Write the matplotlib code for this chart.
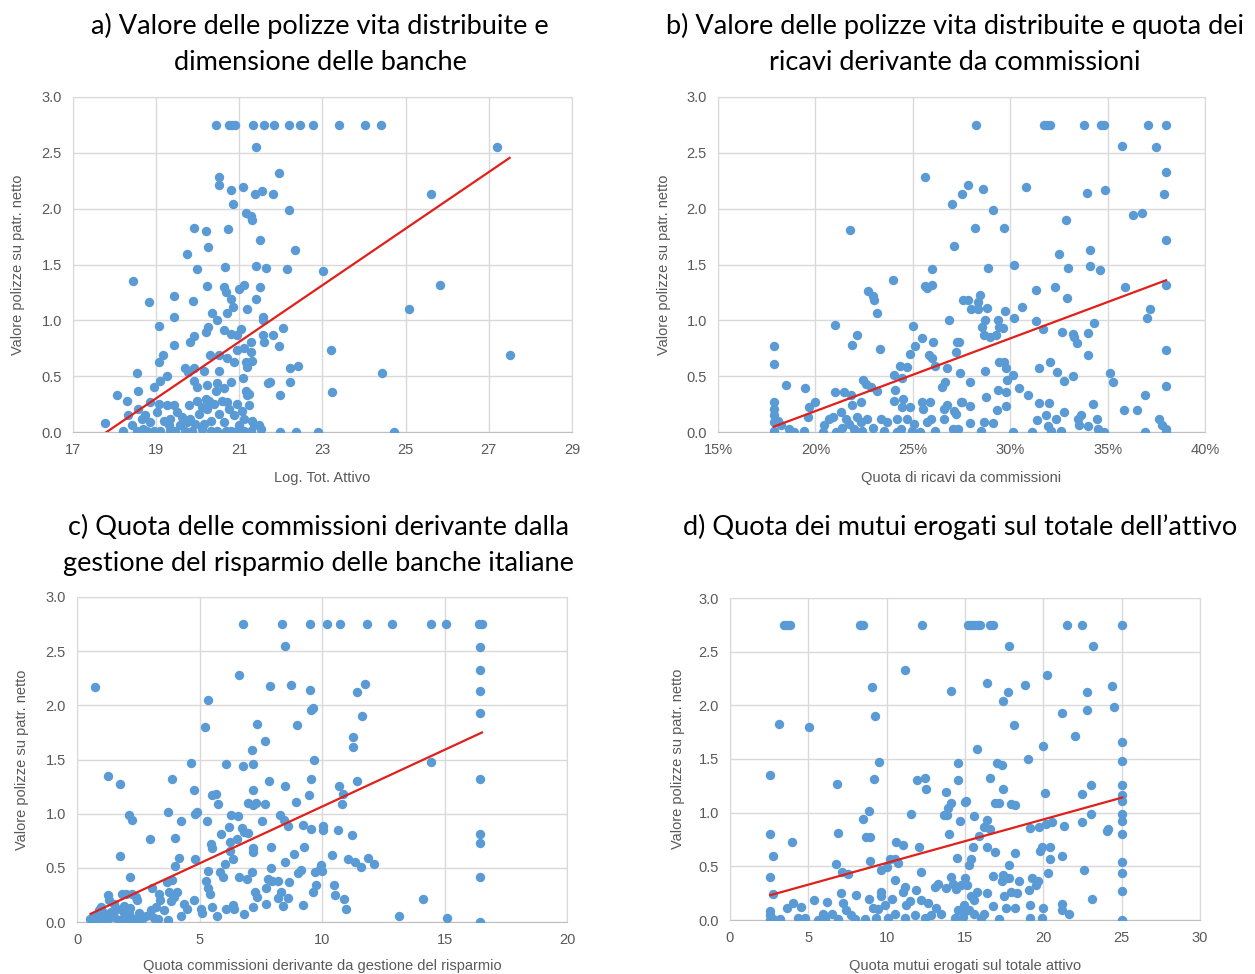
import numpy as np
import matplotlib
matplotlib.use("Agg")
import matplotlib.pyplot as plt

plt.rcParams["font.family"] = ["Liberation Sans", "DejaVu Sans"]

# ---- panel a: log total assets vs life policies / net equity
a_pts = [
    (20.43, 2.75), (20.75, 2.75), (20.83, 2.75), (20.89, 2.75), (21.33, 2.75), (21.60, 2.75),
    (21.84, 2.75), (22.20, 2.75), (22.47, 2.75), (22.78, 2.75), (23.39, 2.75), (24.03, 2.75),
    (24.40, 2.75), (21.40, 2.55), (21.96, 2.32), (20.52, 2.28), (20.52, 2.21), (20.81, 2.17),
    (21.10, 2.19), (21.38, 2.13), (21.54, 2.16), (21.80, 2.13), (20.85, 2.04), (22.20, 1.99),
    (21.15, 1.96), (21.27, 1.93), (21.31, 1.90), (19.90, 1.83), (20.21, 1.80), (20.73, 1.82),
    (21.49, 1.72), (20.24, 1.66), (22.34, 1.63), (19.74, 1.59), (19.98, 1.46), (20.65, 1.48),
    (21.41, 1.49), (21.65, 1.47), (22.14, 1.46), (23.02, 1.44), (18.44, 1.35), (20.23, 1.31),
    (20.63, 1.30), (20.69, 1.25), (21.11, 1.32), (20.99, 1.28), (21.49, 1.30), (21.40, 1.19),
    (19.44, 1.22), (18.83, 1.16), (19.88, 1.17), (20.79, 1.19), (20.85, 1.12), (20.71, 1.07),
    (21.19, 1.10), (20.35, 1.07), (19.42, 1.03), (21.58, 1.03), (21.58, 1.00), (19.07, 0.95),
    (22.04, 0.93), (20.47, 1.00), (20.24, 0.94), (20.19, 0.90), (19.92, 0.86), (19.82, 0.81),
    (20.63, 0.91), (20.79, 0.88), (21.03, 0.92), (20.95, 0.87), (21.27, 0.81), (21.56, 0.87),
    (21.60, 0.81), (21.80, 0.87), (21.96, 0.77), (19.44, 0.78), (23.21, 0.73), (21.11, 0.75),
    (20.95, 0.73), (21.27, 0.72), (19.16, 0.69), (19.08, 0.63), (20.29, 0.69), (20.51, 0.69),
    (20.71, 0.66), (20.87, 0.63), (21.15, 0.63), (21.18, 0.58), (21.31, 0.64), (19.70, 0.57),
    (19.90, 0.57), (19.76, 0.54), (20.15, 0.55), (20.51, 0.55), (22.22, 0.57), (22.40, 0.59),
    (18.55, 0.53), (19.26, 0.50), (19.10, 0.46), (18.94, 0.40), (18.56, 0.37), (18.07, 0.33),
    (18.29, 0.28), (21.10, 0.48), (20.81, 0.45), (21.74, 0.45), (21.69, 0.44), (22.22, 0.45),
    (21.97, 0.33), (19.90, 0.46), (19.98, 0.40), (20.23, 0.42), (20.47, 0.44), (20.43, 0.37),
    (20.63, 0.39), (21.15, 0.37), (21.23, 0.34), (17.77, 0.08), (18.21, 0.01), (18.33, 0.15),
    (18.57, 0.21), (18.65, 0.12), (18.69, 0.03), (18.85, 0.27), (18.85, 0.09), (19.02, 0.18),
    (19.10, 0.01), (19.26, 0.24), (19.34, 0.12), (19.34, 0.01), (19.50, 0.18), (19.58, 0.06),
    (19.70, 0.01), (19.78, 0.24), (19.82, 0.12), (19.98, 0.28), (20.02, 0.16), (20.10, 0.03),
    (20.19, 0.30), (20.23, 0.21), (20.31, 0.10), (20.39, 0.25), (20.47, 0.01), (20.51, 0.16),
    (20.59, 0.28), (20.63, 0.09), (20.75, 0.21), (20.79, 0.01), (20.87, 0.15), (20.95, 0.25),
    (20.99, 0.06), (21.07, 0.19), (21.11, 0.01), (21.19, 0.33), (21.23, 0.24), (21.31, 0.10),
    (21.35, 0.06), (21.48, 0.06), (21.52, 0.03), (21.98, 0.00), (22.36, 0.00), (22.90, 0.00),
    (18.73, 0.15), (18.53, 0.01), (18.77, 0.01), (18.94, 0.01), (19.18, 0.10), (19.46, 0.01),
    (19.62, 0.13), (19.86, 0.01), (19.94, 0.07), (20.15, 0.07), (20.31, 0.01), (20.67, 0.01),
    (20.95, 0.01), (19.74, 0.09), (19.06, 0.25), (19.30, 0.06), (19.42, 0.24), (20.10, 0.22),
    (20.71, 0.27), (21.11, 0.12), (21.27, 0.01), (18.41, 0.06), (18.65, 0.01), (20.27, 0.28),
    (23.24, 0.36), (24.42, 0.53), (24.73, 0.00), (25.08, 1.10), (25.60, 2.13), (25.82, 1.32),
    (27.20, 2.55), (27.50, 0.69),
]
a_trend = (0.2533, -4.511)

# ---- panel b: share of revenues from commissions (%)
b_pts = [
    (25.61, 2.28), (27.01, 2.04), (27.52, 2.13), (27.13, 1.67), (21.76, 1.81), (25.99, 1.46),
    (25.61, 1.31), (25.73, 1.29), (25.99, 1.32), (24.00, 1.36), (22.72, 1.26), (22.96, 1.22),
    (23.01, 1.18), (23.14, 1.07), (26.87, 1.00), (27.60, 1.18), (21.00, 0.96), (22.12, 0.87),
    (21.90, 0.78), (23.30, 0.74), (25.02, 0.95), (25.48, 0.84), (25.10, 0.77), (26.02, 0.81),
    (27.27, 0.81), (27.21, 0.72), (24.85, 0.70), (25.82, 0.69), (25.99, 0.66), (24.32, 0.59),
    (24.71, 0.58), (26.16, 0.59), (26.75, 0.57), (27.44, 0.53), (17.86, 0.77), (17.86, 0.61),
    (18.49, 0.42), (19.46, 0.39), (19.97, 0.27), (19.68, 0.22), (19.60, 0.13), (21.01, 0.36),
    (21.47, 0.36), (21.81, 0.33), (21.86, 0.24), (22.32, 0.27), (22.44, 0.47), (22.58, 0.43),
    (22.83, 0.40), (23.18, 0.37), (24.03, 0.51), (24.46, 0.48), (24.08, 0.38), (24.03, 0.28),
    (24.51, 0.30), (24.46, 0.22), (24.88, 0.22), (25.48, 0.27), (25.87, 0.27), (25.53, 0.21),
    (26.50, 0.40), (26.67, 0.45), (26.58, 0.21), (26.75, 0.24), (27.13, 0.19), (27.47, 0.27),
    (25.95, 0.12), (27.06, 0.03), (17.86, 0.27), (17.86, 0.21), (17.86, 0.15), (17.86, 0.09),
    (17.86, 0.01), (18.06, 0.10), (18.24, 0.06), (18.66, 0.03), (18.92, 0.00), (19.40, 0.01),
    (20.45, 0.06), (20.71, 0.12), (20.88, 0.13), (21.30, 0.18), (21.56, 0.12), (21.39, 0.04),
    (21.73, 0.07), (22.16, 0.13), (22.32, 0.09), (22.41, 0.01), (22.96, 0.04), (23.35, 0.12),
    (23.69, 0.09), (23.52, 0.01), (24.20, 0.12), (24.20, 0.00), (24.71, 0.12), (25.05, 0.07),
    (24.97, 0.01), (25.39, 0.00), (25.73, 0.09), (26.16, 0.01), (26.58, 0.12), (22.66, 0.12),
    (21.05, 0.00), (20.37, 0.00), (21.98, 0.03), (24.37, 0.03),
    (28.27, 2.75), (31.71, 2.75), (31.88, 2.75), (32.05, 2.75), (33.80, 2.75), (34.66, 2.75),
    (34.83, 2.75), (37.09, 2.75), (38.00, 2.75), (35.72, 2.56), (37.48, 2.55), (38.00, 2.33),
    (37.91, 2.13), (27.84, 2.21), (28.61, 2.18), (30.80, 2.19), (33.92, 2.14), (34.86, 2.17),
    (29.13, 1.99), (32.86, 1.90), (36.30, 1.94), (36.76, 1.96), (28.18, 1.83), (29.66, 1.83),
    (38.00, 1.72), (32.52, 1.59), (34.11, 1.63), (34.09, 1.49), (34.61, 1.45), (32.95, 1.47),
    (30.17, 1.50), (28.84, 1.47), (31.32, 1.27), (32.28, 1.30), (32.91, 1.20), (35.89, 1.30),
    (38.00, 1.32), (27.84, 1.18), (28.46, 1.23), (28.36, 1.16), (27.98, 1.10), (28.36, 1.10),
    (28.80, 1.11), (29.74, 1.08), (30.63, 1.12), (30.17, 1.02), (28.70, 1.00), (28.53, 0.94),
    (28.67, 0.87), (28.97, 0.85), (29.35, 1.00), (29.43, 0.94), (29.61, 0.93), (29.25, 0.87),
    (31.32, 0.99), (31.70, 0.92), (32.64, 0.90), (33.20, 0.88), (33.29, 0.85), (33.42, 0.80),
    (33.97, 0.89), (34.32, 0.98), (37.19, 1.10), (37.00, 1.02), (27.35, 0.81), (33.97, 0.69),
    (38.00, 0.73), (29.43, 0.63), (29.68, 0.63), (29.77, 0.57), (30.12, 0.51), (29.86, 0.47),
    (31.49, 0.57), (32.05, 0.63), (32.40, 0.54), (32.74, 0.46), (33.20, 0.50), (28.72, 0.55),
    (27.96, 0.45), (35.14, 0.53), (35.26, 0.45), (38.00, 0.41), (29.35, 0.38), (29.77, 0.36),
    (30.43, 0.39), (30.92, 0.33), (28.75, 0.31), (27.50, 0.27), (27.96, 0.23), (29.32, 0.20),
    (29.77, 0.23), (31.46, 0.26), (31.97, 0.26), (34.23, 0.25), (35.82, 0.20), (36.51, 0.20),
    (36.93, 0.33), (27.96, 0.08), (28.51, 0.01), (28.63, 0.09), (29.14, 0.08), (30.12, 0.00),
    (31.10, 0.00), (31.40, 0.11), (31.83, 0.15), (31.92, 0.05), (32.09, 0.01), (32.35, 0.12),
    (32.60, 0.01), (32.77, 0.18), (33.46, 0.12), (33.63, 0.15), (33.54, 0.06), (33.97, 0.05),
    (34.45, 0.12), (34.52, 0.03), (34.79, 0.00), (36.93, 0.00), (37.65, 0.12), (37.77, 0.06),
    (38.00, 0.03), (38.00, 0.00), (27.20, 0.16), (27.30, 0.03),
]
b_trend = (0.0651, -1.115)

# ---- panel c: share of commissions from asset management
c_pts = [
    (6.79, 2.75), (8.36, 2.75), (9.49, 2.75), (10.19, 2.75), (10.74, 2.75), (11.85, 2.75),
    (12.85, 2.75), (14.44, 2.75), (15.05, 2.75), (16.41, 2.75), (16.53, 2.75),
    (8.50, 2.55), (0.72, 2.17), (6.63, 2.28), (7.88, 2.18), (8.74, 2.19), (9.52, 2.14),
    (9.56, 1.96), (9.63, 1.98), (5.33, 2.05), (5.22, 1.80), (7.35, 1.83), (8.98, 1.82),
    (7.68, 1.67), (7.13, 1.59), (9.66, 1.50), (4.64, 1.47), (6.08, 1.46), (6.79, 1.44),
    (7.20, 1.46), (1.26, 1.35), (1.75, 1.27), (3.87, 1.32), (4.78, 1.22), (5.53, 1.17),
    (5.67, 1.18), (5.74, 1.09), (7.20, 1.22), (7.83, 1.30), (8.47, 1.26), (9.56, 1.32),
    (9.45, 1.17), (8.92, 1.11), (6.97, 1.10), (7.31, 1.10), (7.69, 1.09), (7.20, 1.08),
    (2.12, 0.99), (2.23, 0.94), (3.73, 1.02), (4.81, 1.00), (4.89, 1.02), (4.23, 0.93),
    (5.29, 0.93), (6.28, 0.99), (6.56, 0.98), (7.54, 0.93), (8.27, 0.99), (8.43, 0.94),
    (8.61, 0.89), (9.22, 0.90), (9.56, 0.86), (10.03, 0.89), (10.03, 0.85), (2.99, 0.77),
    (3.99, 0.78), (5.87, 0.81), (6.22, 0.88), (6.26, 0.74), (6.52, 0.77), (6.72, 0.87),
    (6.83, 0.83), (6.99, 0.82), (5.46, 0.72), (5.53, 0.68), (7.20, 0.68), (7.20, 0.65),
    (7.90, 0.69), (9.25, 0.69), (1.75, 0.61), (4.82, 0.58), (4.17, 0.59), (3.99, 0.52),
    (6.24, 0.66), (6.38, 0.58), (6.04, 0.54), (8.84, 0.63), (8.50, 0.55), (2.16, 0.42),
    (3.89, 0.39), (5.33, 0.47), (5.85, 0.46), (5.94, 0.42), (6.63, 0.42), (6.94, 0.40),
    (7.13, 0.46), (7.92, 0.50), (7.79, 0.40), (7.96, 0.38), (8.22, 0.38), (8.67, 0.37),
    (9.02, 0.45), (9.15, 0.48), (9.70, 0.46), (9.90, 0.49), (5.26, 0.38), (5.33, 0.31),
    (5.44, 0.26), (4.78, 0.20), (7.27, 0.28), (7.34, 0.23), (7.72, 0.31), (8.33, 0.28),
    (8.22, 0.22), (8.61, 0.22), (9.22, 0.16), (9.63, 0.28), (9.74, 0.34), (7.17, 0.14),
    (6.83, 0.07), (5.71, 0.06), (6.08, 0.12), (6.35, 0.16), (6.42, 0.12), (5.53, 0.14),
    (5.05, 0.12), (5.12, 0.08), (7.72, 0.17), (8.40, 0.15), (4.37, 0.17), (4.51, 0.12),
    (4.23, 0.06), (3.83, 0.19), (3.76, 0.28), (4.07, 0.28), (3.96, 0.23), (3.35, 0.26),
    (3.39, 0.20), (3.21, 0.14), (3.55, 0.11), (3.73, 0.02), (3.14, 0.04), (3.31, 0.03),
    (3.07, 0.31), (3.69, 0.37), (2.16, 0.13), (1.27, 0.25), (1.30, 0.20), (1.84, 0.26),
    (1.98, 0.26), (2.25, 0.26), (2.39, 0.23), (2.46, 0.20), (1.50, 0.17), (1.64, 0.12),
    (1.91, 0.15), (2.12, 0.08), (2.32, 0.03), (2.53, 0.08), (2.66, 0.03), (1.09, 0.08),
    (0.96, 0.14), (0.75, 0.03), (0.61, 0.01), (0.82, 0.05), (1.02, 0.03), (1.23, 0.02),
    (1.37, 0.09), (1.50, 0.05), (1.71, 0.02), (1.91, 0.08), (2.05, 0.02), (2.46, 0.00),
    (2.80, 0.06), (0.68, 0.06), (0.89, 0.11), (0.55, 0.03), (3.01, 0.11),
    (16.46, 2.54), (16.46, 2.33), (16.46, 2.13), (16.46, 1.93), (16.46, 1.32), (16.46, 0.81),
    (16.46, 0.73), (16.46, 0.42), (16.46, 0.00), (11.76, 2.20), (11.42, 2.12), (11.65, 1.90),
    (11.28, 1.71), (11.28, 1.62), (14.46, 1.48), (11.42, 1.30), (10.69, 1.26), (10.87, 1.18),
    (10.83, 1.09), (10.64, 0.85), (11.21, 0.80), (10.42, 0.62), (11.05, 0.58), (11.35, 0.55),
    (11.59, 0.51), (11.87, 0.59), (12.14, 0.54), (9.96, 0.53), (9.99, 0.47), (10.49, 0.34),
    (10.53, 0.25), (10.91, 0.21), (10.98, 0.12), (13.15, 0.06), (14.11, 0.21), (15.12, 0.04),
]
c_trend = (0.1048, 0.017)

# ---- panel d: mortgages over total assets
d_pts = [
    (3.46, 2.75), (3.67, 2.75), (3.86, 2.75), (8.28, 2.75), (8.39, 2.75), (8.49, 2.75),
    (12.25, 2.75), (15.17, 2.75), (15.38, 2.75), (15.59, 2.75), (15.80, 2.75), (15.96, 2.75),
    (16.59, 2.75), (16.76, 2.75), (21.50, 2.75), (22.45, 2.75), (25.04, 2.75),
    (17.78, 2.55), (23.17, 2.55), (11.17, 2.33), (9.07, 2.17), (14.08, 2.13), (9.26, 1.90),
    (3.14, 1.83), (5.03, 1.80), (9.53, 1.47), (2.57, 1.35), (6.86, 1.27), (9.17, 1.31),
    (11.93, 1.30), (12.42, 1.32), (12.48, 1.22), (14.54, 1.46), (14.54, 1.30), (13.76, 1.19),
    (14.12, 1.09), (13.90, 1.04), (13.65, 0.98), (13.86, 0.98), (14.69, 0.92), (15.01, 1.10),
    (13.95, 0.80), (8.85, 1.02), (8.49, 0.94), (8.70, 0.77), (8.92, 0.77), (11.57, 0.99),
    (2.57, 0.80), (3.93, 0.73), (6.90, 0.81), (2.72, 0.60), (2.57, 0.40), (2.72, 0.24),
    (6.79, 0.52), (7.15, 0.45), (7.54, 0.43), (8.96, 0.55), (9.66, 0.47), (10.04, 0.49),
    (10.19, 0.57), (10.51, 0.57), (10.57, 0.73), (11.04, 0.70), (10.72, 0.53), (12.06, 0.68),
    (12.21, 0.45), (14.50, 0.58), (10.51, 0.37), (11.15, 0.31), (11.04, 0.26), (9.66, 0.26),
    (9.66, 0.22), (7.11, 0.25), (8.07, 0.23), (8.85, 0.20), (10.34, 0.20), (11.89, 0.28),
    (13.06, 0.31), (13.27, 0.34), (13.80, 0.30), (14.12, 0.40), (14.22, 0.34), (14.44, 0.29),
    (14.76, 0.33), (3.67, 0.11), (4.04, 0.16), (4.56, 0.12), (5.35, 0.19), (6.20, 0.17),
    (7.22, 0.16), (7.43, 0.09), (9.13, 0.11), (9.45, 0.10), (9.87, 0.14), (11.25, 0.14),
    (11.46, 0.18), (12.21, 0.19), (12.67, 0.16), (13.16, 0.11), (13.48, 0.06), (12.85, 0.05),
    (11.78, 0.05), (10.51, 0.06), (11.15, 0.02), (10.08, 0.02), (9.34, 0.02), (8.60, 0.01),
    (7.96, 0.01), (6.90, 0.01), (6.05, 0.01), (5.63, 0.00), (4.78, 0.02), (4.35, 0.02),
    (3.18, 0.01), (2.76, 0.01), (2.57, 0.00), (2.57, 0.08), (2.57, 0.05), (5.94, 0.06),
    (6.48, 0.06), (7.75, 0.05), (12.42, 0.02), (14.33, 0.02), (14.54, 0.09), (14.97, 0.08),
    (20.22, 2.28), (16.38, 2.21), (18.84, 2.19), (24.36, 2.18), (17.72, 2.12), (17.40, 2.04),
    (22.77, 2.12), (22.77, 1.96), (24.51, 1.98), (21.18, 1.93), (18.10, 1.82), (22.03, 1.71),
    (19.99, 1.62), (25.04, 1.66), (15.74, 1.59), (19.03, 1.50), (25.04, 1.48), (17.02, 1.46),
    (17.36, 1.44), (16.61, 1.32), (17.40, 1.22), (25.04, 1.26), (23.07, 1.26), (22.49, 1.17),
    (20.10, 1.18), (25.04, 1.16), (25.04, 1.11), (16.93, 1.09), (17.19, 1.09), (17.93, 1.08),
    (18.21, 1.07), (15.06, 1.11), (23.03, 0.99), (25.04, 0.99), (25.04, 0.92), (25.04, 0.80),
    (15.59, 0.97), (16.40, 0.93), (16.19, 0.87), (16.61, 0.85), (15.91, 0.78), (19.14, 0.86),
    (19.73, 0.87), (20.20, 0.89), (20.54, 0.91), (21.33, 0.88), (22.49, 0.91), (24.04, 0.83),
    (24.15, 0.85), (15.53, 0.68), (16.38, 0.68), (16.91, 0.63), (18.18, 0.62), (19.80, 0.64),
    (19.90, 0.68), (20.41, 0.68), (20.41, 0.57), (21.22, 0.60), (25.04, 0.54), (25.04, 0.44),
    (25.04, 0.27), (25.04, 0.00), (22.60, 0.47), (20.31, 0.44), (17.78, 0.51), (15.38, 0.57),
    (15.23, 0.51), (16.76, 0.41), (17.40, 0.42), (17.61, 0.39), (17.82, 0.39), (17.36, 0.36),
    (18.46, 0.36), (19.27, 0.39), (19.69, 0.36), (19.52, 0.33), (19.06, 0.28), (15.02, 0.39),
    (15.12, 0.33), (15.74, 0.26), (15.38, 0.22), (15.59, 0.19), (16.38, 0.25), (17.46, 0.22),
    (17.93, 0.26), (18.35, 0.25), (16.76, 0.13), (17.61, 0.11), (18.21, 0.11), (19.12, 0.14),
    (20.01, 0.11), (21.18, 0.15), (21.65, 0.06), (21.22, 0.09), (23.13, 0.20), (14.96, 0.14),
    (15.28, 0.09), (15.59, 0.06), (16.02, 0.02), (16.23, 0.06), (17.19, 0.01), (19.14, 0.02),
    (19.90, 0.02), (14.85, 0.03),
]
d_trend = (0.0405, 0.127)

titles = [
    "a) Valore delle polizze vita distribuite e\ndimensione delle banche",
    "b) Valore delle polizze vita distribuite e quota dei\nricavi derivante da commissioni",
    "c) Quota delle commissioni derivante dalla\ngestione del risparmio delle banche italiane",
    "d) Quota dei mutui erogati sul totale dell\u2019attivo",
]
xlabels = [
    "Log. Tot. Attivo",
    "Quota di ricavi da commissioni",
    "Quota commissioni derivante da gestione del risparmio",
    "Quota mutui erogati sul totale attivo",
]
ylabel = "Valore polizze su patr. netto"
xticks = [
    [17, 19, 21, 23, 25, 27, 29],
    [15, 20, 25, 30, 35, 40],
    [0, 5, 10, 15, 20],
    [0, 5, 10, 15, 20, 25, 30],
]
yticks = [0.0, 0.5, 1.0, 1.5, 2.0, 2.5, 3.0]

BLUE = "#5b9bd5"
RED = "#e0201b"
GRID = "#d9d9d9"
TXT = "#595959"

W, H = 1255, 974
fig = plt.figure(figsize=(W / 100, H / 100), dpi=100)

# axes boxes in pixels: left, top, right, bottom
boxes = [(73, 97, 572, 432), (718, 97, 1205, 432), (77, 597, 567, 922), (730, 598, 1200, 920)]
title_y = [(26, 62), (26, 62), (527, 563), (527, None)]
title_x = [320, 955, 318, 960]
ylab_x = [18, 664, 22, 678]
xlab_y = [478, 478, 966, 966]

panels = [a_pts, b_pts, c_pts, d_pts]
trends = [a_trend, b_trend, c_trend, d_trend]

for i in range(4):
    l, t, r, b = boxes[i]
    ax = fig.add_axes([l / W, 1 - b / H, (r - l) / W, (b - t) / H])
    pts = np.array(panels[i])
    ax.scatter(pts[:, 0], pts[:, 1], s=46, color=BLUE, linewidths=0, zorder=3)
    k, q = trends[i]
    xs = np.array([pts[:, 0].min(), pts[:, 0].max()])
    ax.plot(xs, k * xs + q, color=RED, lw=1.6, zorder=4)

    ax.set_xlim(xticks[i][0], xticks[i][-1])
    ax.set_ylim(0, 3)
    ax.set_xticks(xticks[i])
    ax.set_yticks(yticks)
    if i == 1:
        ax.set_xticklabels([f"{v}%" for v in xticks[i]])
    else:
        ax.set_xticklabels([str(v) for v in xticks[i]])
    ax.set_yticklabels([f"{v:.1f}" for v in yticks])
    ax.grid(True, color=GRID, lw=1)
    ax.set_axisbelow(True)
    for s in ax.spines.values():
        s.set_color(GRID)
    ax.spines["bottom"].set_color("#bfbfbf")
    ax.tick_params(length=0, labelsize=10.5, labelcolor=TXT, pad=8)

    lines = titles[i].split("\n")
    for j, line in enumerate(lines):
        fig.text(title_x[i] / W, 1 - title_y[i][j] / H, line,
                 ha="center", va="center", fontsize=19.5, family="Lato", color="black")
    fig.text((l + r) / 2 / W, 1 - xlab_y[i] / H, xlabels[i], ha="center", va="center",
             fontsize=10.5, color=TXT)
    fig.text(ylab_x[i] / W, 1 - (t + b) / 2 / H, ylabel, ha="center", va="center",
             rotation=90, fontsize=10.5, color=TXT)

fig.savefig("out.png", dpi=100)
